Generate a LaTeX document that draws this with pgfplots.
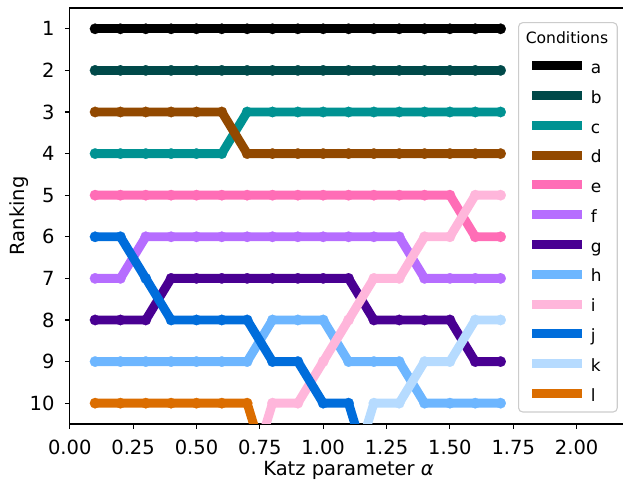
\documentclass[border=0pt]{standalone}
\usepackage{fontspec}
\setmainfont{DejaVu Sans}
\usepackage{pgfplots}
\usepackage{pgfplotstable}
\pgfplotsset{compat=1.18}
\definecolor{ca}{HTML}{000000}
\definecolor{cb}{HTML}{004949}
\definecolor{cc}{HTML}{009292}
\definecolor{cd}{HTML}{924900}
\definecolor{ce}{HTML}{FF6DB6}
\definecolor{cf}{HTML}{B66DFF}
\definecolor{cg}{HTML}{490092}
\definecolor{ch}{HTML}{6DB6FF}
\definecolor{ci}{HTML}{FFB6DB}
\definecolor{cj}{HTML}{006DDB}
\definecolor{ck}{HTML}{B6DBFF}
\definecolor{cl}{HTML}{DB6D00}

\pgfplotstableread{
x a b c d e f g h
0.1 1 2 4 3 5 7 8 9
0.2 1 2 4 3 5 7 8 9
0.3 1 2 4 3 5 6 8 9
0.4 1 2 4 3 5 6 7 9
0.5 1 2 4 3 5 6 7 9
0.6 1 2 4 3 5 6 7 9
0.7 1 2 3 4 5 6 7 9
0.8 1 2 3 4 5 6 7 8
0.9 1 2 3 4 5 6 7 8
1.0 1 2 3 4 5 6 7 8
1.1 1 2 3 4 5 6 7 9
1.2 1 2 3 4 5 6 8 9
1.3 1 2 3 4 5 6 8 9
1.4 1 2 3 4 5 7 8 10
1.5 1 2 3 4 5 7 8 10
1.6 1 2 3 4 6 7 9 10
1.7 1 2 3 4 6 7 9 10
}\main

\pgfplotstableread{
x y
0.7 12
0.8 10
0.9 10
1.0 9
1.1 8
1.2 7
1.3 7
1.4 6
1.5 6
1.6 5
1.7 5
}\seri

\pgfplotstableread{
x y
0.1 6
0.2 6
0.3 7
0.4 8
0.5 8
0.6 8
0.7 8
0.8 9
0.9 9
1.0 10
1.1 10
1.2 12
}\serj

\pgfplotstableread{
x y
1.1 12
1.2 10
1.3 10
1.4 9
1.5 9
1.6 8
1.7 8
}\serk

\pgfplotstableread{
x y
0.1 10
0.2 10
0.3 10
0.4 10
0.5 10
0.6 10
0.7 10
0.8 12
}\serl

\begin{document}
\begin{tikzpicture}
\begin{axis}[
  at={(0,0)}, anchor=south west,
  scale only axis, width=411.8pt, height=307.2pt,
  xmin=0, xmax=2.2, ymin=0.5, ymax=10.5, y dir=reverse,
  xtick={0,0.25,0.5,0.75,1,1.25,1.5,1.75,2},
  xticklabels={0.00,0.25,0.50,0.75,1.00,1.25,1.50,1.75,2.00},
  ytick={1,2,3,4,5,6,7,8,9,10},
  /pgf/number format/assume math mode=true,
  tick align=outside, tick pos=left,
  major tick length=3.5pt,
  tick style={black, line width=0.8pt},
  axis line style={black, line width=0.8pt},
  tick label style={font=\fontsize{14.4}{17}\selectfont},
  label style={font=\fontsize{14.4}{17}\selectfont},
  xticklabel style={inner sep=0pt, anchor=north},
  yticklabel style={inner sep=0pt, anchor=east},
  xticklabel shift=8.1pt,
  yticklabel shift=7.6pt,
  xlabel={Katz parameter {\itshape α}},
  ylabel={Ranking},
  xlabel style={at={(axis description cs:0.5,0)}, anchor=north, inner sep=0pt, yshift=-27.3pt},
  ylabel style={at={(axis description cs:-0.1088,0.5)}, anchor=north, inner sep=0pt, rotate=0},
  clip mode=individual,
  every axis plot/.append style={line width=6.6pt, line join=round, mark=*, mark size=3.9pt, mark options={line width=0.1pt}},
  legend image code/.code={\draw[#1, line width=6.6pt, line cap=butt] (0pt,5.7pt) -- (37pt,5.7pt);},
  legend cell align=left,
  legend style={at={(0.804,0.966)}, anchor=north west,
    draw=black!20, line width=0.8pt, rounded corners=3pt,
    fill=white, fill opacity=0.8, text opacity=1,
    inner xsep=6.7pt, inner ysep=5.5pt,
    row sep=9.5pt, column sep=3pt,
    nodes={inner sep=0pt, text height=10pt, text depth=2.5pt, anchor=base west},
    font=\fontsize{12.5}{15}\selectfont},
]
\addlegendimage{empty legend}
\addlegendentry{\fontsize{11.5}{14}\selectfont\hspace*{-48pt}Conditions}
\addplot[color=ca] table[x=x, y=a] {\main}; \addlegendentry{a}
\addplot[color=cb] table[x=x, y=b] {\main}; \addlegendentry{b}
\addplot[color=cc] table[x=x, y=c] {\main}; \addlegendentry{c}
\addplot[color=cd] table[x=x, y=d] {\main}; \addlegendentry{d}
\addplot[color=ce] table[x=x, y=e] {\main}; \addlegendentry{e}
\addplot[color=cf] table[x=x, y=f] {\main}; \addlegendentry{f}
\addplot[color=cg] table[x=x, y=g] {\main}; \addlegendentry{g}
\addplot[color=ch] table[x=x, y=h] {\main}; \addlegendentry{h}
\addplot[color=ci] table[x=x, y=y] {\seri}; \addlegendentry{i}
\addplot[color=cj] table[x=x, y=y] {\serj}; \addlegendentry{j}
\addplot[color=ck] table[x=x, y=y] {\serk}; \addlegendentry{k}
\addplot[color=cl] table[x=x, y=y] {\serl}; \addlegendentry{l}
\end{axis}
\pgfresetboundingbox
\path[use as bounding box] (-51.5pt,-41.35pt) rectangle (408.6pt,313.1pt);
\end{tikzpicture}
\end{document}
